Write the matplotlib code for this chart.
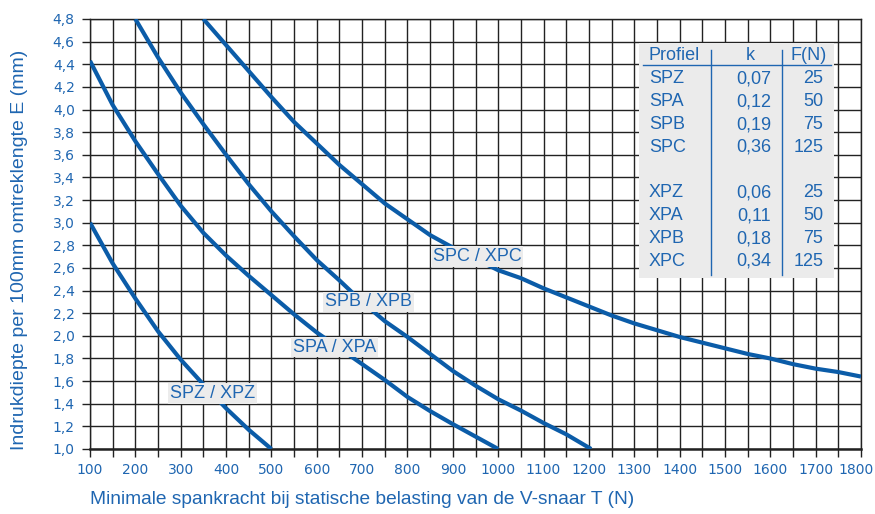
import matplotlib
matplotlib.use('Agg')
import matplotlib.pyplot as plt
from matplotlib.patches import Rectangle
from matplotlib.ticker import MultipleLocator, FuncFormatter
from matplotlib.transforms import ScaledTranslation

# gegevens
spz_x = [100, 150, 200, 250, 300, 350, 400, 450, 500]
spz_y = [3.0, 2.64, 2.33, 2.04, 1.79, 1.57, 1.36, 1.17, 1.0]

spa_x = [100, 150, 200, 250, 300, 350, 400, 450, 500, 550, 600, 650, 700,
         750, 800, 850, 900, 950, 1000]
spa_y = [4.43, 4.04, 3.72, 3.43, 3.15, 2.91, 2.71, 2.53, 2.36, 2.19, 2.03,
         1.89, 1.75, 1.61, 1.46, 1.335, 1.22, 1.11, 1.0]

spb_x = [200, 250, 300, 350, 400, 450, 500, 550, 600, 650, 700, 750, 800,
         850, 900, 950, 1000, 1050, 1100, 1150, 1205]
spb_y = [4.8, 4.46, 4.15, 3.87, 3.6, 3.34, 3.1, 2.88, 2.67, 2.49, 2.30, 2.13,
         1.99, 1.84, 1.69, 1.56, 1.44, 1.34, 1.23, 1.13, 1.0]

spc_x = [350, 400, 450, 500, 550, 600, 650, 700, 750, 800, 850, 900, 950,
         1000, 1050, 1100, 1150, 1200, 1250, 1300, 1350, 1400, 1450, 1500,
         1550, 1600, 1650, 1700, 1750, 1800]
spc_y = [4.8, 4.57, 4.34, 4.11, 3.89, 3.70, 3.51, 3.34, 3.17, 3.03, 2.89,
         2.78, 2.68, 2.58, 2.51, 2.42, 2.34, 2.26, 2.18, 2.11, 2.05, 1.99,
         1.94, 1.89, 1.84, 1.80, 1.75, 1.71, 1.68, 1.64]

curve_labels = ['SPZ / XPZ', 'SPA / XPA', 'SPB / XPB', 'SPC / XPC']
label_pos = [(371, 1.49), (640, 1.90), (714, 2.30), (954, 2.70)]

profielen = ['SPZ', 'SPA', 'SPB', 'SPC', '', 'XPZ', 'XPA', 'XPB', 'XPC']
k_waarden = ['0,07', '0,12', '0,19', '0,36', '', '0,06', '0,11', '0,18', '0,34']
f_waarden = ['25', '50', '75', '125', '', '25', '50', '75', '125']

blauw = '#0b5ca8'
tekst = '#1f66b1'

plt.rcParams['font.family'] = ['Liberation Sans', 'DejaVu Sans']
narrow = ['Liberation Sans Narrow', 'DejaVu Sans']

fig = plt.figure(figsize=(8.75, 5.14), dpi=100)
ax = fig.add_axes([90 / 875, 1 - 449 / 514, (861 - 90) / 875, (449 - 19) / 514])

for xs, ys in [(spz_x, spz_y), (spa_x, spa_y), (spb_x, spb_y), (spc_x, spc_y)]:
    ax.plot(xs, ys, color=blauw, lw=3.0, solid_joinstyle='round',
            solid_capstyle='butt', zorder=3)

for lab, (lx, ly) in zip(curve_labels, label_pos):
    ax.text(lx, ly, lab, color=tekst, fontsize=13, ha='center', va='center',
            zorder=5, bbox=dict(boxstyle='square,pad=0.1', fc='#ececec', ec='none'))

# tabel rechtsboven
ax.add_patch(Rectangle((1310, 2.51), 430, 2.075, fc='#ebebeb', ec='none', zorder=4))
ax.text(1332, 4.48, 'Profiel', color=tekst, fontsize=13, ha='left', va='center', zorder=5)
ax.text(1556, 4.48, 'k', color=tekst, fontsize=13, ha='center', va='center', zorder=5)
ax.text(1724, 4.48, 'F(N)', color=tekst, fontsize=13, ha='right', va='center', zorder=5)
ax.plot([1320, 1733], [4.394, 4.394], color=tekst, lw=1.0, zorder=5)
ax.plot([1470, 1470], [2.54, 4.53], color=tekst, lw=1.0, zorder=5)
ax.plot([1626, 1626], [2.54, 4.53], color=tekst, lw=1.0, zorder=5)
for i, (p, k, f) in enumerate(zip(profielen, k_waarden, f_waarden)):
    ry = 4.27 - 0.2015 * i
    ax.text(1332, ry, p, color=tekst, fontsize=13, ha='left', va='center', zorder=5)
    ax.text(1602, ry, k, color=tekst, fontsize=13, ha='right', va='center', zorder=5)
    ax.text(1717, ry, f, color=tekst, fontsize=13, ha='right', va='center', zorder=5)

ax.set_xlim(100, 1800)
ax.set_ylim(1.0, 4.8)
ax.xaxis.set_major_locator(MultipleLocator(100))
ax.xaxis.set_minor_locator(MultipleLocator(50))
ax.yaxis.set_major_locator(MultipleLocator(0.2))
ax.yaxis.set_major_formatter(FuncFormatter(lambda v, p: f'{v:.1f}'.replace('.', ',')))
ax.grid(which='both', axis='x', color='#222222', lw=1.0, zorder=1)
ax.grid(which='major', axis='y', color='#222222', lw=1.0, zorder=1)
ax.set_axisbelow(True)
ax.tick_params(which='both', direction='out', length=6, width=1.0, color='#222222')
ax.tick_params(axis='x', pad=4, labelcolor=tekst, labelsize=10)
ax.tick_params(axis='y', pad=5, labelcolor=tekst, labelsize=10)
for lbl in ax.get_xticklabels() + ax.get_yticklabels():
    lbl.set_family(narrow)
for s in ax.spines.values():
    s.set_color('#222222')
    s.set_linewidth(1.0)
ax.spines['bottom'].set_linewidth(1.8)

fig.text(20 / 875, (514 - 450) / 514, 'Indrukdiepte per 100mm omtreklengte E (mm)',
         rotation=90, ha='center', va='bottom', color=tekst, fontsize=14)
fig.text(90 / 875, 1 - 500 / 514,
         'Minimale spankracht bij statische belasting van de V-snaar T (N)',
         ha='left', va='center', color=tekst, fontsize=13.8)

# laatste x-label iets naar links zodat het binnen de figuur valt
fig.canvas.draw()
for t in ax.xaxis.get_major_ticks():
    if abs(t.get_loc() - 1800) < 1e-6:
        t.label1.set_transform(t.label1.get_transform() +
                               ScaledTranslation(-0.05, 0, fig.dpi_scale_trans))

fig.savefig('out.png', dpi=100)
